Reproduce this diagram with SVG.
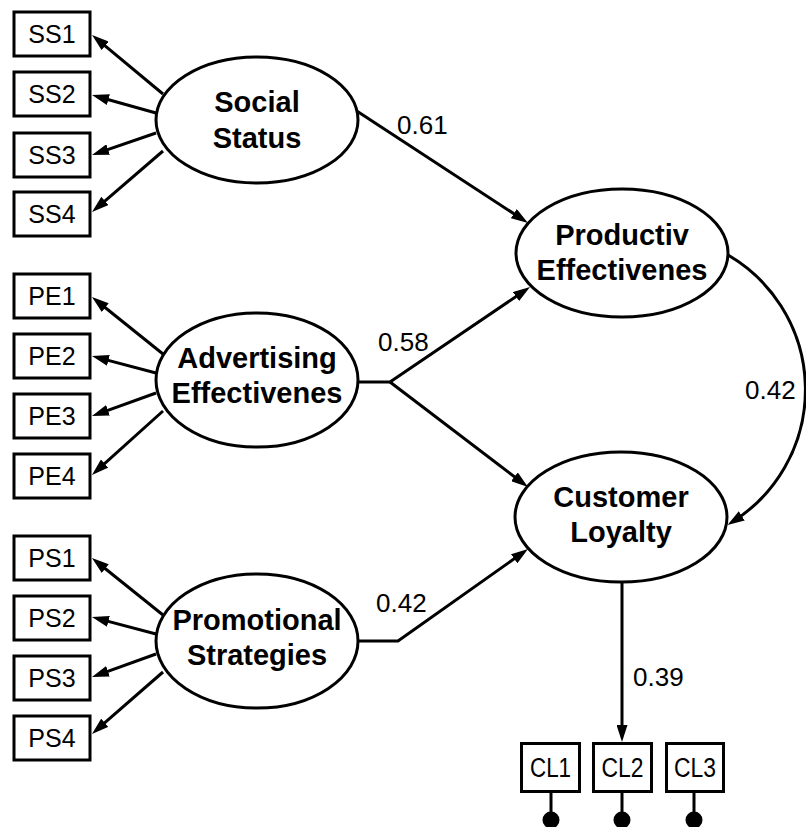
<svg xmlns="http://www.w3.org/2000/svg" width="806" height="827" viewBox="0 0 806 827">
<style>
.box{fill:#fff;stroke:#000;stroke-width:3}
.lat{fill:#fff;stroke:#000;stroke-width:3}
.bl{font-family:"Liberation Sans",Arial,sans-serif;font-size:25px;text-anchor:middle;fill:#000}
.cl{font-family:"Liberation Sans",Arial,sans-serif;font-size:27px;text-anchor:middle;fill:#000}
.ll{font-family:"Liberation Sans",Arial,sans-serif;font-size:29px;font-weight:bold;text-anchor:middle;fill:#000}
.num{font-family:"Liberation Sans",Arial,sans-serif;font-size:26px;fill:#000}
.c{fill:none;stroke:#000;stroke-width:3}
.a{marker-end:url(#ah)}
</style>
<defs>
<marker id="ah" markerUnits="userSpaceOnUse" viewBox="0 0 17 11" refX="9" refY="5.5" markerWidth="17" markerHeight="11" orient="auto">
<path d="M0,0 L17,5.5 L0,11 Z" fill="#000"/>
</marker>
</defs>
<rect width="806" height="827" fill="#fff"/>
<g id="connectors">
<line class="c a" x1="163" y1="94" x2="98.2" y2="40.1"/>
<line class="c a" x1="156" y1="113" x2="99.7" y2="97.2"/>
<line class="c a" x1="156" y1="133" x2="99.6" y2="152.4"/>
<line class="c a" x1="163" y1="151" x2="98.1" y2="206.8"/>
<line class="c a" x1="163" y1="354" x2="98.2" y2="302"/>
<line class="c a" x1="156" y1="373" x2="99.7" y2="358.1"/>
<line class="c a" x1="156" y1="393" x2="99.5" y2="413.3"/>
<line class="c a" x1="163" y1="411" x2="97.9" y2="469.6"/>
<line class="c a" x1="163" y1="615" x2="98.2" y2="563"/>
<line class="c a" x1="156" y1="634" x2="99.7" y2="619.1"/>
<line class="c a" x1="156" y1="654" x2="99.5" y2="674.3"/>
<line class="c a" x1="163" y1="672" x2="98" y2="728.7"/>
<line class="c a" x1="356" y1="110.5" x2="521.3" y2="218.6"/>
<polyline class="c a" points="358,382 390,382 523.4,291.5"/>
<line class="c a" x1="390" y1="382" x2="521.6" y2="482.2"/>
<polyline class="c a" points="359,641 398,641 521.5,553.6"/>
<path class="c a" d="M728,255 A156,156 0 0 1 734.2,520.7"/>
<line class="c a" x1="622" y1="583" x2="622" y2="734"/>
<line class="c" x1="551" y1="793" x2="551" y2="815"/>
<line class="c" x1="622" y1="793" x2="622" y2="815"/>
<line class="c" x1="694" y1="793" x2="694" y2="815"/>
<circle cx="551" cy="820" r="8.5" fill="#000"/>
<circle cx="622" cy="820" r="8.5" fill="#000"/>
<circle cx="694" cy="820" r="8.5" fill="#000"/>
<text class="num" x="397" y="134">0.61</text>
<text class="num" x="378" y="351">0.58</text>
<text class="num" x="376" y="612">0.42</text>
<text class="num" x="745" y="399">0.42</text>
<text class="num" x="633" y="686">0.39</text>
</g>
<g id="SS1"><rect class="box" x="14" y="12" width="76" height="44"/><text class="bl" x="52" y="43">SS1</text></g>
<g id="SS2"><rect class="box" x="14" y="72" width="76" height="44"/><text class="bl" x="52" y="103">SS2</text></g>
<g id="SS3"><rect class="box" x="14" y="133" width="76" height="44"/><text class="bl" x="52" y="164">SS3</text></g>
<g id="SS4"><rect class="box" x="14" y="192" width="76" height="44"/><text class="bl" x="52" y="223">SS4</text></g>
<g id="PE1"><rect class="box" x="14" y="274" width="76" height="44"/><text class="bl" x="52" y="305">PE1</text></g>
<g id="PE2"><rect class="box" x="14" y="334" width="76" height="44"/><text class="bl" x="52" y="365">PE2</text></g>
<g id="PE3"><rect class="box" x="14" y="394" width="76" height="44"/><text class="bl" x="52" y="425">PE3</text></g>
<g id="PE4"><rect class="box" x="14" y="454" width="76" height="44"/><text class="bl" x="52" y="485">PE4</text></g>
<g id="PS1"><rect class="box" x="14" y="536" width="76" height="44"/><text class="bl" x="52" y="567">PS1</text></g>
<g id="PS2"><rect class="box" x="14" y="596" width="76" height="44"/><text class="bl" x="52" y="627">PS2</text></g>
<g id="PS3"><rect class="box" x="14" y="656" width="76" height="44"/><text class="bl" x="52" y="687">PS3</text></g>
<g id="PS4"><rect class="box" x="14" y="716" width="76" height="44"/><text class="bl" x="52" y="747">PS4</text></g>
<g id="SocialStatus"><ellipse class="lat" cx="257" cy="120" rx="101" ry="63"/><text class="ll" x="257" y="112">Social</text><text class="ll" x="257" y="148">Status</text></g>
<g id="AdvertisingEffectivenes"><ellipse class="lat" cx="257" cy="380" rx="101" ry="67"/><text class="ll" x="257" y="368">Advertising</text><text class="ll" x="257" y="403">Effectivenes</text></g>
<g id="PromotionalStrategies"><ellipse class="lat" cx="257" cy="641" rx="101" ry="67"/><text class="ll" x="257" y="630">Promotional</text><text class="ll" x="257" y="665">Strategies</text></g>
<g id="ProductivEffectivenes"><ellipse class="lat" cx="622" cy="253" rx="106" ry="64"/><text class="ll" x="622" y="245">Productiv</text><text class="ll" x="622" y="280">Effectivenes</text></g>
<g id="CustomerLoyalty"><ellipse class="lat" cx="621" cy="517" rx="106" ry="65"/><text class="ll" x="621" y="507">Customer</text><text class="ll" x="621" y="542">Loyalty</text></g>
<g id="CL1"><rect class="box" x="521.5" y="743.5" width="58" height="48"/><text class="cl" x="550.5" y="777" textLength="41" lengthAdjust="spacingAndGlyphs">CL1</text></g>
<g id="CL2"><rect class="box" x="593.5" y="743.5" width="58" height="48"/><text class="cl" x="622.5" y="777" textLength="42" lengthAdjust="spacingAndGlyphs">CL2</text></g>
<g id="CL3"><rect class="box" x="666.5" y="743.5" width="57" height="48"/><text class="cl" x="695" y="777" textLength="42" lengthAdjust="spacingAndGlyphs">CL3</text></g>
</svg>
